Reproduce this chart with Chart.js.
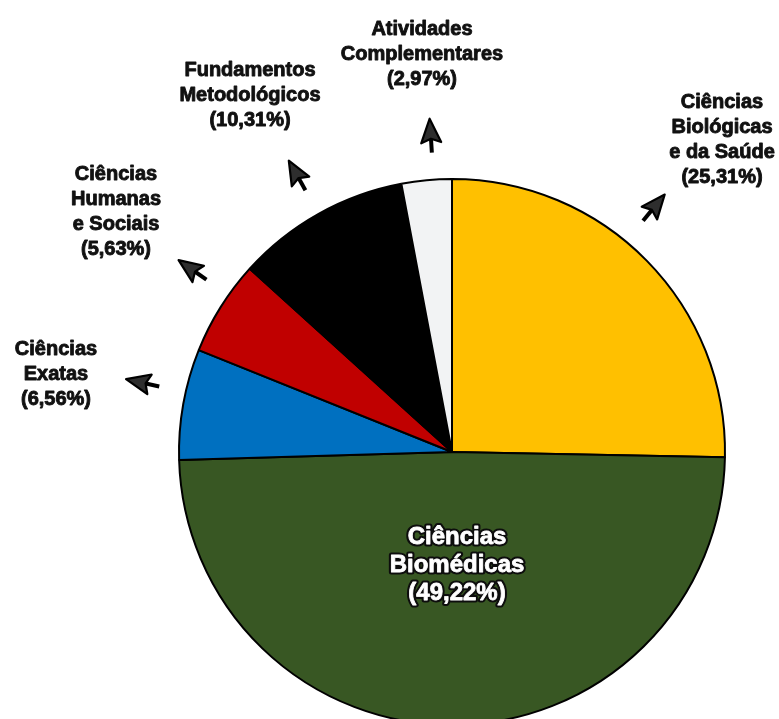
<!DOCTYPE html>
<html lang="pt-BR">
<head>
<meta charset="utf-8">
<title>Carga horária por área</title>
<script src="https://cdn.jsdelivr.net/npm/chart.js@4.4.1/dist/chart.umd.min.js"></script>
<style>
  html, body {
    margin: 0;
    padding: 0;
    background: #ffffff;
    overflow: hidden;
  }

  .area_grafico {
    position: relative;
    width: 779px;
    height: 745px;
  }
</style>
</head>
<body>
<div class="area_grafico">
  <canvas id="grafico_areas"></canvas>
</div>

<script>
//dados do gráfico (sentido horário a partir do topo)
const categorias = [
  "Ciências Biológicas e da Saúde",
  "Ciências Biomédicas",
  "Ciências Exatas",
  "Ciências Humanas e Sociais",
  "Fundamentos Metodológicos",
  "Atividades Complementares",
];

const percentuais = [25.31, 49.22, 6.56, 5.63, 10.31, 2.97];

//quebra de linha de cada rótulo
const linhasRotulo = [
  ["Ciências", "Biológicas", "e da Saúde"],
  ["Ciências", "Biomédicas"],
  ["Ciências", "Exatas"],
  ["Ciências", "Humanas", "e Sociais"],
  ["Fundamentos", "Metodológicos"],
  ["Atividades", "Complementares"],
];

const cores = ["#FFC000", "#385723", "#0070C0", "#C00000", "#000000", "#F2F3F4"];

//posição do rótulo (deslocamento a partir do centro da pizza, em px)
const posicaoRotulo = [
  [270, -312],
  [5, 113],
  [-396, -78],
  [-336, -240],
  [-202, -357],
  [-30, -398],
];

//pequeno ajuste do ângulo das setas (graus); a do meio não tem seta
const ajusteSeta = [-6, null, 2.5, 3, 0, 1.5];

const fonteRotulo = "'Liberation Sans', Arial, sans-serif";

function formatarPercentual(valor) {
  return "(" + valor.toFixed(2).replace(".", ",") + "%)";
}

function desenharSeta(ctx, x, y, angulo) {
  ctx.save();
  ctx.translate(x, y);
  ctx.rotate(angulo);

  //haste
  ctx.beginPath();
  ctx.moveTo(0, 0);
  ctx.lineTo(16, 0);
  ctx.lineWidth = 4;
  ctx.strokeStyle = "#000";
  ctx.stroke();

  //cabeça da seta (estilo cursor)
  ctx.beginPath();
  ctx.moveTo(34, 0);
  ctx.lineTo(10, -10);
  ctx.lineTo(14, 0);
  ctx.lineTo(10, 10);
  ctx.closePath();
  ctx.fillStyle = "#2e2e2e";
  ctx.fill();
  ctx.lineWidth = 2.2;
  ctx.lineJoin = "round";
  ctx.strokeStyle = "#000";
  ctx.stroke();

  ctx.restore();
}

const pluginRotulos = {
  id: "rotulos",
  afterDraw(chart) {
    const ctx = chart.ctx;
    const arcos = chart.getDatasetMeta(0).data;

    arcos.forEach((arco, i) => {
      const { x, y, startAngle, endAngle, outerRadius } = arco.getProps(
        ["x", "y", "startAngle", "endAngle", "outerRadius"],
        true
      );

      const linhas = linhasRotulo[i].concat([formatarPercentual(percentuais[i])]);
      const cx = x + posicaoRotulo[i][0];
      const cy = y + posicaoRotulo[i][1];

      ctx.save();
      ctx.textAlign = "center";
      ctx.textBaseline = "middle";
      ctx.lineJoin = "round";

      if (ajusteSeta[i] === null) {
        //rótulo dentro da fatia, texto branco contornado
        ctx.font = "bold 24px " + fonteRotulo;
        const altura = 28;
        const topo = cy - ((linhas.length - 1) * altura) / 2;
        linhas.forEach((linha, j) => {
          ctx.lineWidth = 5;
          ctx.strokeStyle = "#0d0d0d";
          ctx.strokeText(linha, cx, topo + j * altura);
          ctx.fillStyle = "#ffffff";
          ctx.fillText(linha, cx, topo + j * altura);
          ctx.lineWidth = 0.8;
          ctx.strokeStyle = "#ffffff";
          ctx.strokeText(linha, cx, topo + j * altura);
        });
      } else {
        ctx.font = "bold 20px " + fonteRotulo;
        ctx.fillStyle = "#111";
        ctx.strokeStyle = "#111";
        ctx.lineWidth = 0.9;
        const altura = 25;
        const topo = cy - ((linhas.length - 1) * altura) / 2;
        linhas.forEach((linha, j) => {
          ctx.fillText(linha, cx, topo + j * altura);
          //contorno fino para deixar o texto mais pesado
          ctx.strokeText(linha, cx, topo + j * altura);
        });

        const meio = (startAngle + endAngle) / 2 + (ajusteSeta[i] * Math.PI) / 180;
        const r = outerRadius + 27;
        desenharSeta(ctx, x + Math.cos(meio) * r, y + Math.sin(meio) * r, meio);
      }
      ctx.restore();
    });
  },
};

function criarGrafico() {
  return new Chart(document.getElementById("grafico_areas"), {
    type: "pie",

    data: {
      labels: categorias,
      datasets: [
        {
          data: percentuais,
          backgroundColor: cores,
          borderColor: "#000",
          borderWidth: 2,
        },
      ],
    },

    options: {
      responsive: true,
      maintainAspectRatio: false,
      animation: false,
      radius: 273,

      layout: {
        padding: { left: 179, right: 54, top: 179, bottom: 20 },
      },

      plugins: {
        legend: { display: false },
        tooltip: { enabled: false },
      },
    },

    plugins: [pluginRotulos],
  });
}

//espera a fonte carregar antes de desenhar no canvas
document.fonts
  .load("bold 24px 'Liberation Sans'")
  .then(criarGrafico, criarGrafico);
</script>
</body>
</html>
